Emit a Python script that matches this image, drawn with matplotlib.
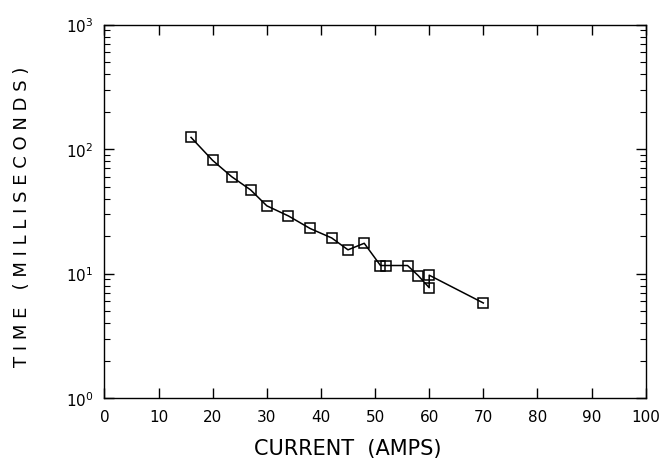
import matplotlib
matplotlib.use("Agg")
import matplotlib.pyplot as plt
from matplotlib.ticker import LogLocator, MultipleLocator, NullFormatter

# current (amps) vs. time (ms)
current = [16, 20, 23.5, 27, 30, 34, 38, 42, 45, 48, 51, 52, 56, 58, 60, 60, 70]
time_ms = [124, 81, 60, 47, 35, 29, 23, 19.3, 15.5, 17.5, 11.6, 11.6, 11.6, 9.6, 7.7, 9.7, 5.8]

x_ticks = [0, 10, 20, 30, 40, 50, 60, 70, 80, 90, 100]

plt.rcParams["font.family"] = "DejaVu Sans"

fig = plt.figure(figsize=(6.65, 4.64), dpi=100)
ax = fig.add_axes([0.157, 0.140, 0.814, 0.805])

ax.plot(current, time_ms, color="black", linewidth=1.1, marker="s",
        markersize=6.5, markerfacecolor="none", markeredgecolor="black",
        markeredgewidth=1.1)

ax.set_yscale("log")
ax.set_ylim(1, 1000)
ax.set_xlim(0, 100)
ax.set_xticks(x_ticks)
ax.xaxis.set_minor_locator(MultipleLocator(10))

ax.yaxis.set_major_locator(LogLocator(base=10, numticks=10))
ax.yaxis.set_minor_locator(LogLocator(base=10, subs=range(2, 10), numticks=20))
ax.yaxis.set_minor_formatter(NullFormatter())

ax.tick_params(which="both", direction="in", top=True, right=True, color="black")
ax.tick_params(which="major", length=7, width=1.0, labelsize=11, pad=8)
ax.tick_params(which="minor", length=4, width=0.8)
ax.tick_params(axis="x", which="minor", length=0)

for s in ax.spines.values():
    s.set_linewidth(1.0)

ax.set_xlabel("CURRENT  (AMPS)", fontsize=15)
ax.xaxis.set_label_coords(0.45, -0.108)
ax.set_ylabel("T I M E   ( M I L L I S E C O N D S )", fontsize=13)
ax.yaxis.set_label_coords(-0.135, 0.487)

fig.savefig("out.png", dpi=100)
